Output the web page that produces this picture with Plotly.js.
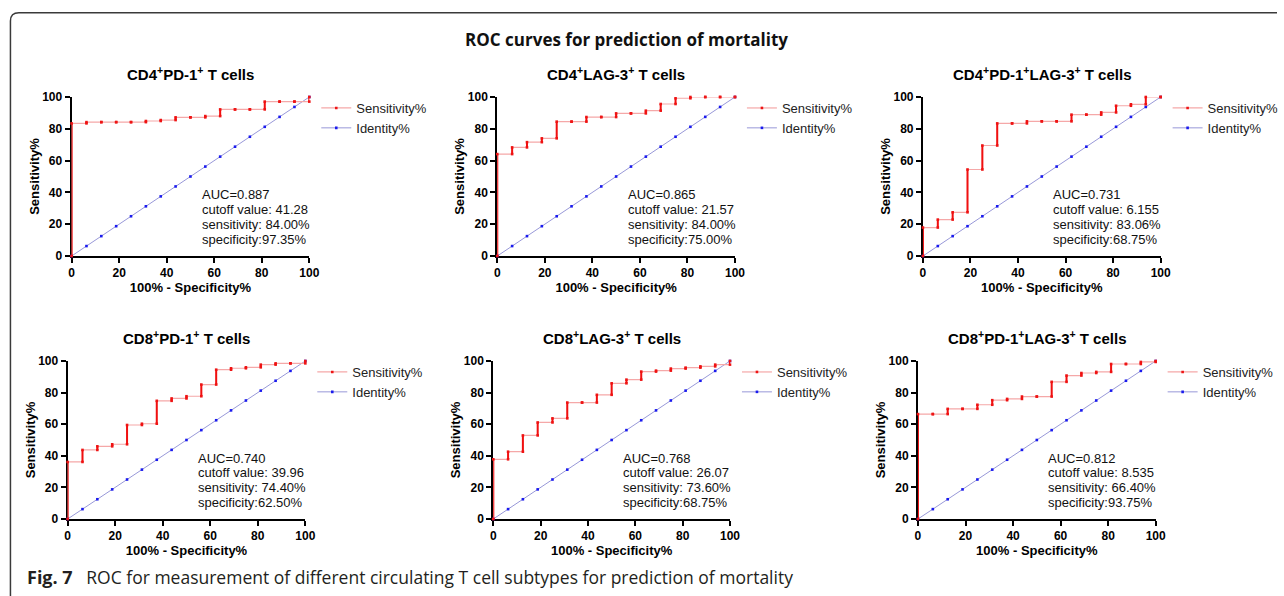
<!DOCTYPE html>
<html>
<head>
<meta charset="utf-8">
<script src="https://cdn.plot.ly/plotly-3.0.1.min.js"></script>
<style>html,body{margin:0;padding:0;background:#fff;}#chart{width:1284px;height:596px;}</style>
</head>
<body>
<div id="chart"></div>
<script>
// ---------- data ----------
const mainTitle = 'ROC curves for prediction of mortality';
const captionLabel = 'Fig. 7';
const caption = 'ROC for measurement of different circulating T cell subtypes for prediction of mortality';
const panelTitles = [
  'CD4<sup>+</sup>PD-1<sup>+</sup> T cells',
  'CD4<sup>+</sup>LAG-3<sup>+</sup> T cells',
  'CD4<sup>+</sup>PD-1<sup>+</sup>LAG-3<sup>+</sup> T cells',
  'CD8<sup>+</sup>PD-1<sup>+</sup> T cells',
  'CD8<sup>+</sup>LAG-3<sup>+</sup> T cells',
  'CD8<sup>+</sup>PD-1<sup>+</sup>LAG-3<sup>+</sup> T cells'
];
// 100% - Specificity% values (x) at which the curves step
const fprSteps = [0, 6.25, 12.5, 18.75, 25, 31.25, 37.5, 43.75, 50, 56.25, 62.5, 68.75, 75, 81.25, 87.5, 93.75, 100];
// Identity% reference line
const identityPct = [0, 6.25, 12.5, 18.75, 25, 31.25, 37.5, 43.75, 50, 56.25, 62.5, 68.75, 75, 81.25, 87.5, 93.75, 100];
// Sensitivity% level reached at each fprSteps value
const sensCD4PD1     = [83.4, 84.2, 84.2, 84.2, 84.2, 84.9, 85.5, 87.2, 87.2, 88.0, 92.2, 92.2, 92.2, 97.1, 97.1, 97.1, 100];
const sensCD4LAG3    = [64.1, 68.3, 71.6, 74.0, 84.5, 84.5, 87.4, 87.4, 89.7, 89.7, 91.4, 95.6, 99.2, 100, 100, 100, 100];
const sensCD4PD1LAG3 = [17.9, 22.9, 27.5, 54.4, 69.5, 83.4, 83.4, 84.7, 84.7, 84.7, 88.9, 88.9, 90.3, 94.5, 95.4, 100, 100];
const sensCD8PD1     = [36.1, 43.7, 46.0, 47.3, 59.5, 60.3, 74.8, 76.3, 77.7, 85.1, 94.5, 95.4, 96.0, 97.7, 98.5, 98.5, 100];
const sensCD8LAG3    = [37.8, 42.6, 52.9, 61.1, 63.7, 73.7, 73.7, 78.6, 85.9, 88.2, 93.3, 93.9, 95.2, 95.8, 96.6, 97.7, 100];
const sensCD8PD1LAG3 = [66.4, 66.4, 69.7, 69.7, 72.3, 75.2, 76.0, 77.5, 77.5, 86.8, 90.8, 92.4, 93.1, 98.1, 98.1, 99.4, 100];
const aucValues = ['0.887', '0.865', '0.731', '0.740', '0.768', '0.812'];
const cutoffValues = ['41.28', '21.57', '6.155', '39.96', '26.07', '8.535'];
const sensitivityValues = ['84.00%', '84.00%', '83.06%', '74.40%', '73.60%', '66.40%'];
const specificityValues = ['97.35%', '75.00%', '68.75%', '62.50%', '68.75%', '93.75%'];
const tickVals = [0, 20, 40, 60, 80, 100];

// ---------- layout ----------
const W = 1284, H = 596;
const sensSeries = [sensCD4PD1, sensCD4LAG3, sensCD4PD1LAG3, sensCD8PD1, sensCD8LAG3, sensCD8PD1LAG3];
// plot boxes in pixels: [left, right, top, bottom]
const boxes = [
  [72, 311, 97, 256], [500, 739, 97, 256], [928, 1167, 97, 256],
  [68, 307, 361, 519], [496, 734, 361, 519], [923, 1162, 361, 519]
];
const px = v => v / W;
const py = v => 1 - v / H;
const FONT = 'Liberation Sans, Arial, sans-serif';

const traces = [];
const layout = {
  width: W, height: H,
  margin: {l: 0, r: 0, t: 0, b: 0},
  paper_bgcolor: '#ffffff', plot_bgcolor: '#ffffff',
  title: {
    text: '<b>' + mainTitle + '</b>',
    xref: 'paper', yref: 'paper', x: 630 / W, y: py(40), xanchor: 'center', yanchor: 'middle',
    font: {family: 'Open Sans, sans-serif', size: 17, color: '#111', weight: 700}
  },
  annotations: [],
  shapes: [{
    type: 'path', xref: 'paper', yref: 'paper',
    path: `M ${px(10.5)} ${py(596)} L ${px(10.5)} ${py(21)} Q ${px(10.5)} ${py(12.7)} ${px(19)} ${py(12.7)} L ${px(1284)} ${py(12.7)}`,
    line: {color: '#3a3a3a', width: 1.5}
  }],
  showlegend: true
};

sensSeries.forEach((lev, i) => {
  const n = i + 1;
  const sfx = n > 1 ? String(n) : '';
  const xa = 'x' + sfx, ya = 'y' + sfx;
  const legendId = 'legend' + sfx;
  const [L, R, T, B] = boxes[i];

  // step path and vertical risers built from the data arrays
  const xs = [], ys = [], vx = [], vy = [];
  let prev = 0;
  fprSteps.forEach((f, j) => {
    xs.push(f, f); ys.push(prev, lev[j]);
    if (lev[j] !== prev) { vx.push(f, f, null); vy.push(prev, lev[j], null); }
    prev = lev[j];
  });

  traces.push({
    x: identityPct, y: identityPct, xaxis: xa, yaxis: ya, type: 'scatter', mode: 'lines+markers',
    name: 'Identity%', legend: legendId, legendrank: 2,
    line: {color: '#9898d8', width: 1},
    marker: {color: '#1a1aee', size: 2.6, symbol: 'square'},
    cliponaxis: false, hoverinfo: 'skip'
  });
  traces.push({
    x: xs, y: ys, xaxis: xa, yaxis: ya, type: 'scatter', mode: 'lines+markers',
    name: 'Sensitivity%', legend: legendId, legendrank: 1,
    line: {color: '#f5a8a8', width: 1.2},
    marker: {color: '#ee1515', size: 2.6, symbol: 'square'},
    cliponaxis: false, hoverinfo: 'skip'
  });
  traces.push({
    x: vx, y: vy, xaxis: xa, yaxis: ya, type: 'scatter', mode: 'lines',
    showlegend: false, legend: legendId,
    line: {color: '#f01010', width: 2},
    cliponaxis: false, hoverinfo: 'skip'
  });

  const axBase = {
    range: [0, 100], tickvals: tickVals, ticktext: tickVals.map(String),
    showgrid: false, zeroline: false, showline: true, linecolor: '#000', linewidth: 2,
    ticks: 'outside', ticklen: 5, tickwidth: 2, tickcolor: '#000',
    tickfont: {family: FONT, size: 12, color: '#000', weight: 'bold'},
    layer: 'below traces', fixedrange: true
  };
  layout['xaxis' + sfx] = Object.assign({}, axBase, {
    domain: [px(L), px(R)], anchor: ya,
    title: {text: '100% - Specificity%', font: {family: FONT, size: 13, color: '#000', weight: 'bold'}, standoff: 3}
  });
  layout['yaxis' + sfx] = Object.assign({}, axBase, {
    domain: [py(B), py(T)], anchor: xa,
    title: {text: 'Sensitivity%', font: {family: FONT, size: 13, color: '#000', weight: 'bold'}, standoff: 0}
  });
  layout[legendId] = {
    x: px(R + 7), y: py(T - 4), xanchor: 'left', yanchor: 'top',
    bgcolor: 'rgba(0,0,0,0)', borderwidth: 0, traceorder: 'normal',
    font: {family: FONT, size: 13, color: '#222'}, itemclick: false, itemdoubleclick: false
  };

  layout.annotations.push({
    text: '<b>' + panelTitles[i] + '</b>', xref: xa + ' domain', yref: ya + ' domain',
    x: 0.5, y: 1, yshift: 24, xanchor: 'center', yanchor: 'middle', showarrow: false,
    font: {family: FONT, size: 15, color: '#000'}
  });
  const lines = [
    'AUC=' + aucValues[i],
    'cutoff value: ' + cutoffValues[i],
    'sensitivity: ' + sensitivityValues[i],
    'specificity:' + specificityValues[i]
  ];
  lines.forEach((t, k) => {
    layout.annotations.push({
      text: t, xref: xa, yref: ya, x: 54, y: 38.5 - k * 9.3,
      xanchor: 'left', yanchor: 'middle', showarrow: false,
      font: {family: FONT, size: 13, color: '#111'}
    });
  });
});

layout.annotations.push({
  text: '<span style="font-size:18px"><b>' + captionLabel + '</b></span>\u00a0\u00a0\u00a0' + caption,
  xref: 'paper', yref: 'paper',
  x: px(25), y: py(577), xanchor: 'left', yanchor: 'middle', showarrow: false,
  font: {family: 'Open Sans, sans-serif', size: 17.5, color: '#231f20'}
});

Plotly.newPlot('chart', traces, layout, {staticPlot: true, displayModeBar: false});
</script>
</body>
</html>
